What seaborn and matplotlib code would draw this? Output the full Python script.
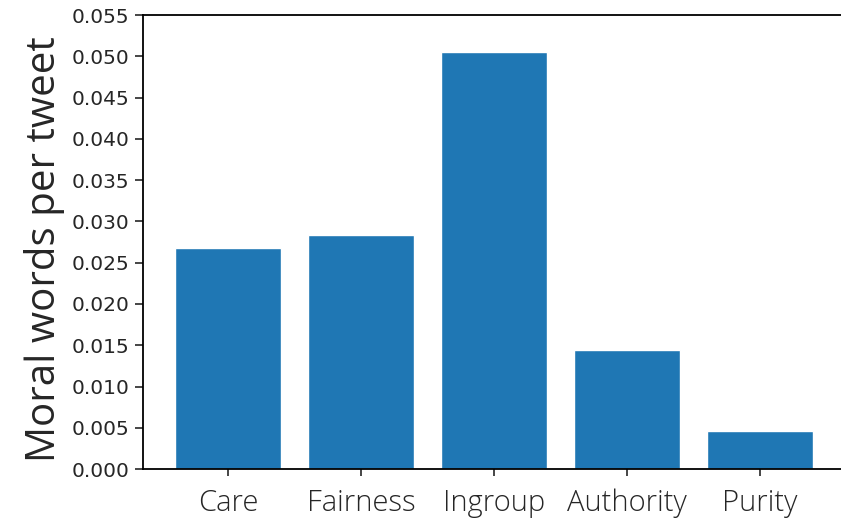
import numpy as np
import pandas as pd
import matplotlib
matplotlib.use("Agg")
import matplotlib.pyplot as plt
import seaborn as sns

# values
foundations = ["Care", "Fairness", "Ingroup", "Authority", "Purity"]
words_per_tweet = [0.0268, 0.0284, 0.0505, 0.0144, 0.0046]
y_ticks = np.arange(0, 0.0551, 0.005)

sns.set_style("ticks")
plt.rcParams["font.family"] = ["Open Sans", "DejaVu Sans"]
plt.rcParams["font.weight"] = "light"

df = pd.DataFrame({"foundation": foundations, "rate": words_per_tweet})

fig = plt.figure(figsize=(8.41, 5.2), dpi=100)
ax = fig.add_axes([0.170, 0.098, 0.835, 0.873])

sns.barplot(data=df, x="foundation", y="rate", color="#1f77b4",
            saturation=1, width=0.8, ax=ax)

ax.set_xlim(-0.64, 4.64)
ax.set_ylim(0, 0.055)
ax.set_yticks(y_ticks)
# tick numbers use the plain default font, the labels a light one
ax.set_yticklabels([f"{v:.3f}" for v in y_ticks], fontsize=14.5,
                   family="DejaVu Sans", weight="normal")
ax.tick_params(axis="y", length=6, width=1.2, pad=4)
ax.tick_params(axis="x", length=5, width=1.2, labelsize=21, pad=9)

ax.set_xlabel("")
ax.set_ylabel("Moral words per tweet", fontsize=29)
ax.yaxis.set_label_coords(-0.111, 0.485)

for side in ["left", "bottom", "top", "right"]:
    ax.spines[side].set_linewidth(1.3)
    ax.spines[side].set_color("black")

fig.savefig("out.png", dpi=100)
